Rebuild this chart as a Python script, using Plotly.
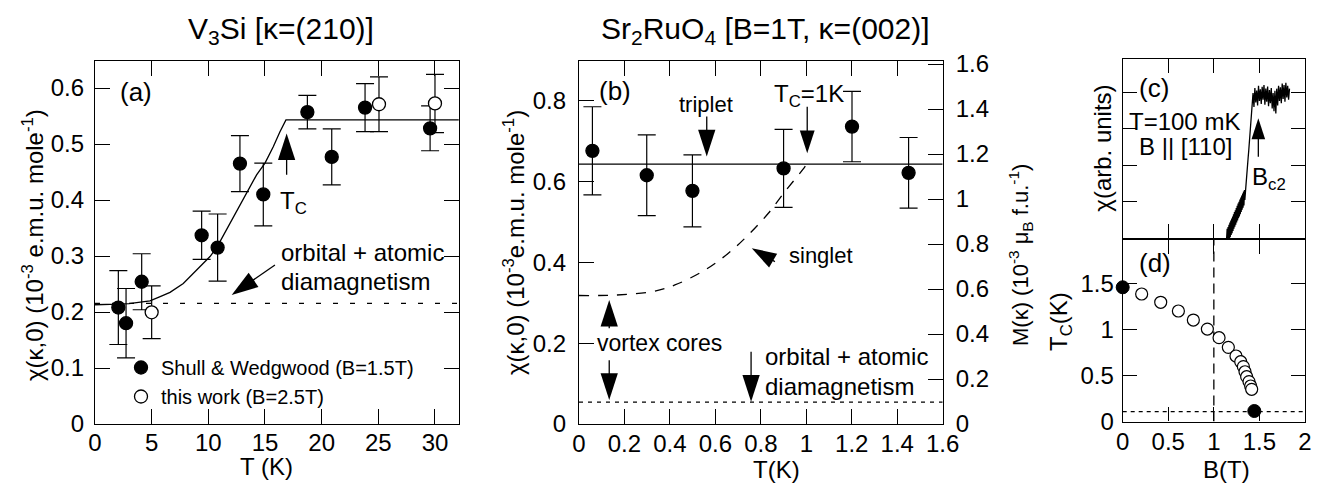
import plotly.graph_objects as go

FONT = "Liberation Sans, Arial, Helvetica, sans-serif"
W, H = 1317, 483

# ---------------- Panel (a): V3Si ----------------
a_filled_T = [2.06, 2.74, 4.12, 9.41, 10.82, 12.79, 14.85, 18.74, 20.89, 23.83, 29.57]
a_filled_chi = [0.208, 0.180, 0.254, 0.337, 0.315, 0.465, 0.410, 0.557, 0.477, 0.565, 0.528]
a_filled_err = [0.066, 0.062, 0.050, 0.043, 0.060, 0.050, 0.056, 0.030, 0.050, 0.043, 0.040]
a_open_T = [5.0, 25.06, 30.0]
a_open_chi = [0.1995, 0.571, 0.5725]
a_open_err = [0.047, 0.049, 0.052]
a_fit_T = [0, 1, 2, 3, 4, 4.85, 5.7, 6.62, 7.79, 8.97, 10.15, 10.74, 11.91, 13.09,
           14.26, 15.0, 15.73, 16.32, 16.85, 32.1]
a_fit_chi = [0.213, 0.213, 0.214, 0.215, 0.217, 0.220, 0.227, 0.235, 0.251, 0.275, 0.299,
             0.315, 0.358, 0.400, 0.445, 0.466, 0.495, 0.522, 0.543, 0.543]
a_dia_T = [0, 32.1]
a_dia_chi = [0.2155, 0.2155]
a_legend = ["Shull & Wedgwood (B=1.5T)", "this work (B=2.5T)"]

# ---------------- Panel (b): Sr2RuO4 ----------------
b_T = [0.059, 0.298, 0.499, 0.900, 1.201, 1.450]
b_chi = [0.676, 0.6155, 0.577, 0.6325, 0.736, 0.6215]
b_err = [0.109, 0.100, 0.089, 0.0965, 0.087, 0.0875]
b_triplet_T = [0, 1.6]
b_triplet_chi = [0.643, 0.643]
b_singlet_T = [0.0, 0.158, 0.32, 0.422, 0.554, 0.657, 0.745, 0.833, 0.906, 0.994, 1.0]
b_singlet_chi = [0.318, 0.319, 0.3275, 0.344, 0.381, 0.4225, 0.468, 0.5215, 0.575, 0.637, 0.643]
b_dia_T = [0, 1.6]
b_dia_chi = [0.054, 0.054]

# ---------------- Panel (c): chi vs B ----------------
c_B = [1.140, 1.146, 1.150, 1.156, 1.160, 1.166, 1.170, 1.176, 1.180, 1.186, 1.190, 1.196,
       1.200, 1.206, 1.210, 1.216, 1.220, 1.226, 1.230, 1.236, 1.240, 1.246, 1.250, 1.256,
       1.260, 1.266, 1.270, 1.276, 1.280, 1.286, 1.290, 1.296, 1.300, 1.306, 1.310, 1.316,
       1.320, 1.326, 1.330, 1.336, 1.340,
       1.346, 1.352, 1.358, 1.364, 1.370, 1.376, 1.382, 1.388, 1.394, 1.400, 1.406, 1.412,
       1.418, 1.424,
       1.430, 1.440, 1.450, 1.460, 1.470, 1.480, 1.490, 1.500, 1.510, 1.520, 1.530, 1.540,
       1.550, 1.560, 1.570, 1.580, 1.590, 1.600, 1.610, 1.620, 1.630, 1.640, 1.650, 1.660,
       1.670, 1.680, 1.690, 1.700, 1.710, 1.720, 1.730, 1.740, 1.750, 1.760, 1.770, 1.780,
       1.790, 1.800, 1.810, 1.820, 1.830]
c_chi = [0.00, 0.26, 0.00, 0.31, 0.00, 0.37, 0.00, 0.43, 0.03, 0.49, 0.09, 0.54,
         0.14, 0.60, 0.20, 0.66, 0.26, 0.72, 0.32, 0.77, 0.37, 0.83, 0.43, 0.89,
         0.49, 0.95, 0.55, 1.00, 0.60, 1.06, 0.66, 1.12, 0.72, 1.17, 0.78, 1.23,
         0.84, 1.28, 0.90, 1.32, 1.05,
         1.25, 1.40, 1.60, 1.80, 2.00, 2.20, 2.38, 2.58, 2.80, 3.02, 3.22, 3.46,
         3.64, 3.78,
         3.98, 3.60, 4.12, 3.72, 4.05, 3.64, 4.18, 3.76, 4.08, 3.68, 4.15, 3.80,
         4.20, 3.66, 4.10, 3.74, 4.16, 3.62, 4.06, 3.70, 4.12, 3.56, 3.98, 3.48,
         4.04, 3.42, 4.10, 3.64, 4.18, 3.76, 4.14, 3.70, 4.24, 3.82, 4.20, 3.74,
         4.26, 3.86, 4.18, 3.80, 4.10]

# ---------------- Panel (d): Tc vs B ----------------
d_open_B = [0.208, 0.417, 0.611, 0.775, 0.929, 1.057, 1.159, 1.243, 1.295, 1.324, 1.342,
            1.360, 1.386, 1.404, 1.415]
d_open_Tc = [1.386, 1.296, 1.201, 1.103, 1.005, 0.911, 0.806, 0.712, 0.650, 0.596, 0.541,
             0.487, 0.433, 0.386, 0.350]
d_filled_B = [0.0, 1.444]
d_filled_Tc = [1.459, 0.114]
d_base_B = [0, 2]
d_base_Tc = [0.107, 0.107]
d_vline_B = [1.0, 1.0]
d_vline_Tc = [0, 1.973]

fig = go.Figure()

def err_trace(x, y, e, xa, ya, filled, size=13):
    return go.Scatter(
        x=x, y=y, mode="markers", xaxis=xa, yaxis=ya, showlegend=False, cliponaxis=False,
        marker=dict(size=size, color="black" if filled else "white", opacity=1,
                    line=dict(color="black", width=1.3)),
        error_y=dict(type="data", array=e, color="black", thickness=1.2, width=9),
        hoverinfo="skip")

def line_trace(x, y, xa, ya, dash="solid", width=1.3, shape="linear"):
    return go.Scatter(x=x, y=y, mode="lines", xaxis=xa, yaxis=ya, showlegend=False,
                      line=dict(color="black", width=width, dash=dash, shape=shape),
                      hoverinfo="skip")

# (a)
fig.add_trace(line_trace(a_dia_T, a_dia_chi, "x", "y", dash="5px,12px"))
fig.add_trace(line_trace(a_fit_T, a_fit_chi, "x", "y"))
fig.add_trace(err_trace(a_filled_T, a_filled_chi, a_filled_err, "x", "y", True))
fig.add_trace(err_trace(a_open_T, a_open_chi, a_open_err, "x", "y", False))
fig.add_trace(go.Scatter(x=[None], y=[None], mode="markers", xaxis="x", yaxis="y",
                         name=a_legend[0], marker=dict(size=13, color="black",
                         line=dict(color="black", width=1.3))))
fig.add_trace(go.Scatter(x=[None], y=[None], mode="markers", xaxis="x", yaxis="y",
                         name=a_legend[1], marker=dict(size=13, color="white",
                         line=dict(color="black", width=1.3))))
# (b)
fig.add_trace(line_trace(b_dia_T, b_dia_chi, "x2", "y2", dash="4px,5px"))
fig.add_trace(line_trace(b_triplet_T, b_triplet_chi, "x2", "y2"))
fig.add_trace(line_trace(b_singlet_T, b_singlet_chi, "x2", "y2", dash="10px,9px", shape="spline"))
fig.add_trace(err_trace(b_T, b_chi, b_err, "x2", "y2", True))
fig.add_trace(go.Scatter(x=[None], y=[None], xaxis="x2", yaxis="y3", showlegend=False))
# (c)
fig.add_trace(line_trace(c_B, c_chi, "x4", "y4", width=1.3))
# (d)
fig.add_trace(line_trace(d_base_B, d_base_Tc, "x5", "y5", dash="4px,4px"))
fig.add_trace(line_trace(d_vline_B, d_vline_Tc, "x5", "y5", dash="10px,6px"))
fig.add_trace(go.Scatter(x=d_open_B, y=d_open_Tc, mode="markers", xaxis="x5", yaxis="y5",
                         showlegend=False, cliponaxis=False,
                         marker=dict(size=12, color="white", line=dict(color="black", width=1.2))))
fig.add_trace(go.Scatter(x=d_filled_B, y=d_filled_Tc, mode="markers", xaxis="x5", yaxis="y5",
                         showlegend=False, cliponaxis=False,
                         marker=dict(size=13, color="black", line=dict(color="black", width=1))))

# arrows: (xaxis, yaxis, tail, tip, head size)
arrows = [
    ("x", "y", (16.91, 0.445), (16.91, 0.519), 28),
    ("x", "y", (15.88, 0.284), (12.06, 0.2304), 28),
    ("x2", "y2", (0.562, 0.761), (0.562, 0.662), 28),
    ("x2", "y2", (1.004, 0.785), (1.004, 0.670), 24),
    ("x2", "y2", (0.862, 0.4017), (0.760, 0.435), 26),
    ("x2", "y2", (0.133, 0.237), (0.133, 0.307), 28),
    ("x2", "y2", (0.133, 0.158), (0.133, 0.0594), 28),
    ("x2", "y2", (0.757, 0.179), (0.757, 0.0552), 28),
    ("x4", "y4", (1.488, 2.236), (1.488, 3.29), 22),
]
for xa, ya, tail, tip, sz in arrows:
    fig.add_trace(go.Scatter(
        x=[tail[0], tip[0]], y=[tail[1], tip[1]], mode="lines+markers", xaxis=xa, yaxis=ya,
        showlegend=False, cliponaxis=False, hoverinfo="skip",
        line=dict(color="black", width=1.3),
        marker=dict(symbol="arrow", size=[0, sz], angleref="previous", color="black",
                    opacity=1, line=dict(width=0))))

def axis(**kw):
    d = dict(showline=True, linecolor="black", linewidth=1.3, ticks="inside", ticklen=15,
             tickwidth=1.2, tickcolor="black", showgrid=False, zeroline=False,
             tickfont=dict(size=24, color="black", family=FONT))
    d.update(kw)
    return d

def px2fx(p):
    return p / W

def py2fy(p):
    return 1 - p / H

fig.update_layout(
    width=W, height=H, margin=dict(l=0, r=0, t=0, b=0, autoexpand=False),
    paper_bgcolor="white", plot_bgcolor="white",
    font=dict(family=FONT, color="black"),
    showlegend=True,
    legend=dict(x=px2fx(121), y=py2fy(348), xanchor="left", yanchor="top",
                font=dict(size=20, family=FONT, color="black"), bgcolor="rgba(0,0,0,0)",
                tracegroupgap=0, itemwidth=30),
    xaxis=axis(domain=[px2fx(95), px2fx(459)], range=[0, 32.12], dtick=5, tick0=0,
               anchor="y", mirror="ticks", ticklabelstandoff=-3),
    yaxis=axis(domain=[py2fy(424), py2fy(60.7)], range=[0, 0.6488], dtick=0.1, tick0=0,
               anchor="x", mirror="ticks", ticklabelstandoff=5),
    xaxis2=axis(domain=[px2fx(579), px2fx(942.7)], range=[0, 1.6], dtick=0.2, tick0=0,
                anchor="y2", mirror="ticks", ticklabelstandoff=-2),
    yaxis2=axis(domain=[py2fy(424), py2fy(60.7)], range=[0, 0.899], dtick=0.2, tick0=0,
                anchor="x2", ticklabelstandoff=7),
    yaxis3=axis(range=[0, 1.615], dtick=0.2, tick0=0, anchor="x2", overlaying="y2",
                side="right", ticklabelstandoff=7),
    xaxis4=axis(domain=[px2fx(1122.7), px2fx(1305)], range=[0, 2], dtick=0.5, tick0=0,
                anchor="y4", mirror="ticks", showticklabels=False, ticklen=14),
    yaxis4=axis(domain=[py2fy(238.3), py2fy(59.3)], range=[0, 4.904], dtick=1, tick0=0,
                anchor="x4", mirror="ticks", showticklabels=False, ticklen=14),
    xaxis5=axis(domain=[px2fx(1122.7), px2fx(1305)], range=[0, 2], dtick=0.5, tick0=0,
                anchor="y5", mirror="ticks", ticklen=14, ticklabelstandoff=-1),
    yaxis5=axis(domain=[py2fy(421.5), py2fy(240)], range=[0, 1.973], dtick=0.5, tick0=0,
                anchor="x5", mirror="ticks", ticklen=14, ticklabelstandoff=3),
)

def txt(text, x, y, xref, yref, size=24, xanchor="left", yanchor="middle", angle=0):
    fig.add_annotation(text=text, x=x, y=y, xref=xref, yref=yref, showarrow=False,
                       xanchor=xanchor, yanchor=yanchor, textangle=angle,
                       font=dict(size=size, family=FONT, color="black"))

# titles
txt("V<sub>3</sub>Si [κ=(210)]", px2fx(281), py2fy(30), "paper", "paper", 30, "center")
txt("Sr<sub>2</sub>RuO<sub>4</sub> [B=1T, κ=(002)]", px2fx(765), py2fy(30), "paper", "paper", 30, "center")
# axis titles
txt("χ(κ,0) (10<sup>-3</sup> e.m.u. mole<sup>-1</sup>)", px2fx(33), py2fy(245), "paper", "paper", 24, "center", angle=-90)
txt("T (K)", px2fx(266), py2fy(466), "paper", "paper", 24, "center")
txt("χ(κ,0) (10<sup>-3</sup>e.m.u. mole<sup>-1</sup>)", px2fx(514), py2fy(243), "paper", "paper", 24, "center", angle=-90)
txt("T(K)", px2fx(776.7), py2fy(469), "paper", "paper", 24, "center")
txt("M(κ) (10<sup>-3</sup> μ<sub>B</sub> f.u.<sup>-1</sup>)", px2fx(1020), py2fy(255), "paper", "paper", 22, "center", angle=-90)
txt("χ(arb. units)", px2fx(1101.7), py2fy(148), "paper", "paper", 24, "center", angle=-90)
txt("T<sub>C</sub>(K)", px2fx(1060), py2fy(322), "paper", "paper", 24, "center", angle=-90)
txt("B(T)", px2fx(1226.7), py2fy(469), "paper", "paper", 24, "center")
# panel (a) labels
txt("(a)", 2.03, 0.593, "x", "y", 26)
txt("T<sub>C</sub>", 16.15, 0.396, "x", "y", 24)
txt("orbital + atomic", 16.24, 0.306, "x", "y", 24)
txt("diamagnetism", 16.24, 0.255, "x", "y", 24)
# panel (b) labels
txt("(b)", 0.079, 0.825, "x2", "y2", 26)
txt("triplet", 0.559, 0.79, "x2", "y2", 22, "center")
txt("T<sub>C</sub>=1K", 0.848, 0.814, "x2", "y2", 24)
txt("singlet", 0.914, 0.418, "x2", "y2", 22)
txt("vortex cores", 0.070, 0.1998, "x2", "y2", 23)
txt("orbital + atomic", 0.811, 0.1666, "x2", "y2", 24)
txt("diamagnetism", 0.811, 0.0923, "x2", "y2", 24)
# panel (c) labels
txt("(c)", 0.154, 4.11, "x4", "y4", 26)
txt("T=100 mK", 0.044, 3.19, "x4", "y4", 24)
txt("B || [110]", 0.154, 2.51, "x4", "y4", 24)
txt("B<sub>c2</sub>", 1.397, 1.65, "x4", "y4", 24)
# panel (d) labels
txt("(d)", 0.154, 1.72, "x5", "y5", 26)

fig.write_html(
    "out.html",
    config={"displayModeBar": False},
    post_script="document.body.style.margin='0';document.body.style.padding='0';"
                "document.documentElement.style.overflow='hidden';",
)
